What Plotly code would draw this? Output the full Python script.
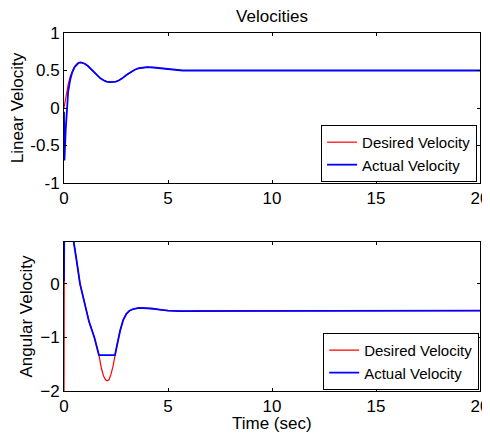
import plotly.graph_objects as go

# linear velocity (top panel)
lin_t_des = [0, 0.1, 0.2, 0.3, 0.4, 0.5, 0.6, 0.7, 0.8, 0.9, 1.0, 1.15, 1.3, 1.45, 1.6, 1.75, 1.9, 2.05, 2.2, 2.35, 2.5, 2.65, 2.8, 3.0, 3.2, 3.4, 3.6, 3.8, 4.0, 4.3, 4.7, 5.2, 5.7, 20]
lin_v_des = [0, 0.17, 0.31, 0.42, 0.5, 0.55, 0.585, 0.603, 0.607, 0.603, 0.59, 0.56, 0.52, 0.475, 0.43, 0.395, 0.37, 0.352, 0.345, 0.345, 0.352, 0.37, 0.395, 0.44, 0.48, 0.51, 0.53, 0.542, 0.545, 0.54, 0.527, 0.51, 0.5, 0.5]
lin_t_act = [0, 0.02, 0.05, 0.08, 0.13, 0.2, 0.3, 0.4, 0.5, 0.6, 0.7, 0.8, 0.9, 1.0, 1.15, 1.3, 1.45, 1.6, 1.75, 1.9, 2.05, 2.2, 2.35, 2.5, 2.65, 2.8, 3.0, 3.2, 3.4, 3.6, 3.8, 4.0, 4.3, 4.7, 5.2, 5.7, 20]
lin_v_act = [-0.05, -0.7, -0.5, -0.3, 0.0, 0.22, 0.38, 0.48, 0.54, 0.58, 0.603, 0.607, 0.603, 0.59, 0.56, 0.52, 0.475, 0.43, 0.395, 0.37, 0.352, 0.345, 0.345, 0.352, 0.37, 0.395, 0.44, 0.48, 0.51, 0.53, 0.542, 0.545, 0.54, 0.527, 0.51, 0.5, 0.5]

# angular velocity (bottom panel)
ang_t_des = [0, 0.02, 0.3, 0.48, 0.6, 0.77, 1.0, 1.2, 1.46, 1.68, 1.8, 1.9, 2.0, 2.08, 2.16, 2.25, 2.35, 2.45, 2.57, 2.7, 2.85, 3.0, 3.15, 3.33, 3.6, 3.81, 4.2, 4.6, 5.0, 5.5, 6.0, 6.5, 20]
ang_v_des = [-2.5, 1.5, 1.2, 0.78, 0.45, 0.0, -0.4, -0.7, -1.0, -1.33, -1.58, -1.72, -1.79, -1.81, -1.79, -1.7, -1.55, -1.33, -1.1, -0.87, -0.67, -0.56, -0.5, -0.47, -0.45, -0.45, -0.46, -0.48, -0.5, -0.51, -0.51, -0.5, -0.5]
ang_t_act = [0, 0.02, 0.3, 0.48, 0.6, 0.77, 1.0, 1.2, 1.46, 1.68, 2.45, 2.57, 2.7, 2.85, 3.0, 3.15, 3.33, 3.6, 3.81, 4.2, 4.6, 5.0, 5.5, 6.0, 6.5, 20]
ang_v_act = [0.05, 1.5, 1.2, 0.78, 0.45, 0.0, -0.4, -0.7, -1.0, -1.33, -1.33, -1.1, -0.87, -0.67, -0.56, -0.5, -0.47, -0.45, -0.45, -0.46, -0.48, -0.5, -0.51, -0.51, -0.5, -0.5]

fnt = "Liberation Sans, Arial, sans-serif"

fig = go.Figure()

fig.add_trace(go.Scatter(x=lin_t_des, y=lin_v_des, name="Desired Velocity", mode="lines",
                         line=dict(color="#ff0000", width=1.2), xaxis="x", yaxis="y", legend="legend"))
fig.add_trace(go.Scatter(x=lin_t_act, y=lin_v_act, name="Actual Velocity", mode="lines",
                         line=dict(color="#0000ff", width=1.8), xaxis="x", yaxis="y", legend="legend"))
fig.add_trace(go.Scatter(x=ang_t_des, y=ang_v_des, name="Desired Velocity", mode="lines",
                         line=dict(color="#ff0000", width=1.2), xaxis="x2", yaxis="y2", legend="legend2"))
fig.add_trace(go.Scatter(x=ang_t_act, y=ang_v_act, name="Actual Velocity", mode="lines",
                         line=dict(color="#0000ff", width=1.8), xaxis="x2", yaxis="y2", legend="legend2"))

ax = dict(showline=True, linecolor="black", linewidth=1, mirror="ticks", ticks="inside",
          ticklen=3, tickcolor="black", showgrid=False, zeroline=False, automargin=False,
          ticklabeloverflow="allow", tickfont=dict(family=fnt, size=17, color="black"))
title_font = dict(family=fnt, size=17, color="black")

legend_style = dict(bgcolor="white", bordercolor="black", borderwidth=1,
                    font=dict(family=fnt, size=15, color="black"),
                    xanchor="right", yanchor="bottom", tracegroupgap=0)

# page body has an 8px margin, so the figure is sized to fill the rest of the window
fig.update_layout(
    width=482, height=426,
    margin=dict(l=56, r=10, t=25, b=43),
    plot_bgcolor="white", paper_bgcolor="white",
    title=dict(text="Velocities", xref="paper", x=0.5, xanchor="center", y=0.98, yanchor="middle",
               font=title_font, automargin=False),
    xaxis=dict(ax, domain=[0, 1], range=[0, 20], tickvals=[0, 5, 10, 15, 20], anchor="y"),
    yaxis=dict(ax, domain=[0.581, 1], range=[-1, 1], tickvals=[-1, -0.5, 0, 0.5, 1],
               ticktext=["-1", "-0.5", "0", "0.5", "1"], anchor="x",
               title=dict(text="Linear Velocity", standoff=6, font=title_font)),
    xaxis2=dict(ax, domain=[0, 1], range=[0, 20], tickvals=[0, 5, 10, 15, 20], anchor="y2"),
    yaxis2=dict(ax, domain=[0, 0.416], range=[-2, 0.78], tickvals=[-2, -1, 0], anchor="x2",
                title=dict(text="Angular Velocity", standoff=3, font=title_font)),
    legend=dict(legend_style, x=0.993, y=0.584),
    legend2=dict(legend_style, x=0.998, y=0.003),
)

# x label of the lower panel, placed just under its tick labels
fig.add_annotation(text="Time (sec)", xref="paper", yref="paper", x=0.5, y=0,
                   xanchor="center", yanchor="top", yshift=-21, showarrow=False,
                   font=title_font)

fig.write_html("out.html")
